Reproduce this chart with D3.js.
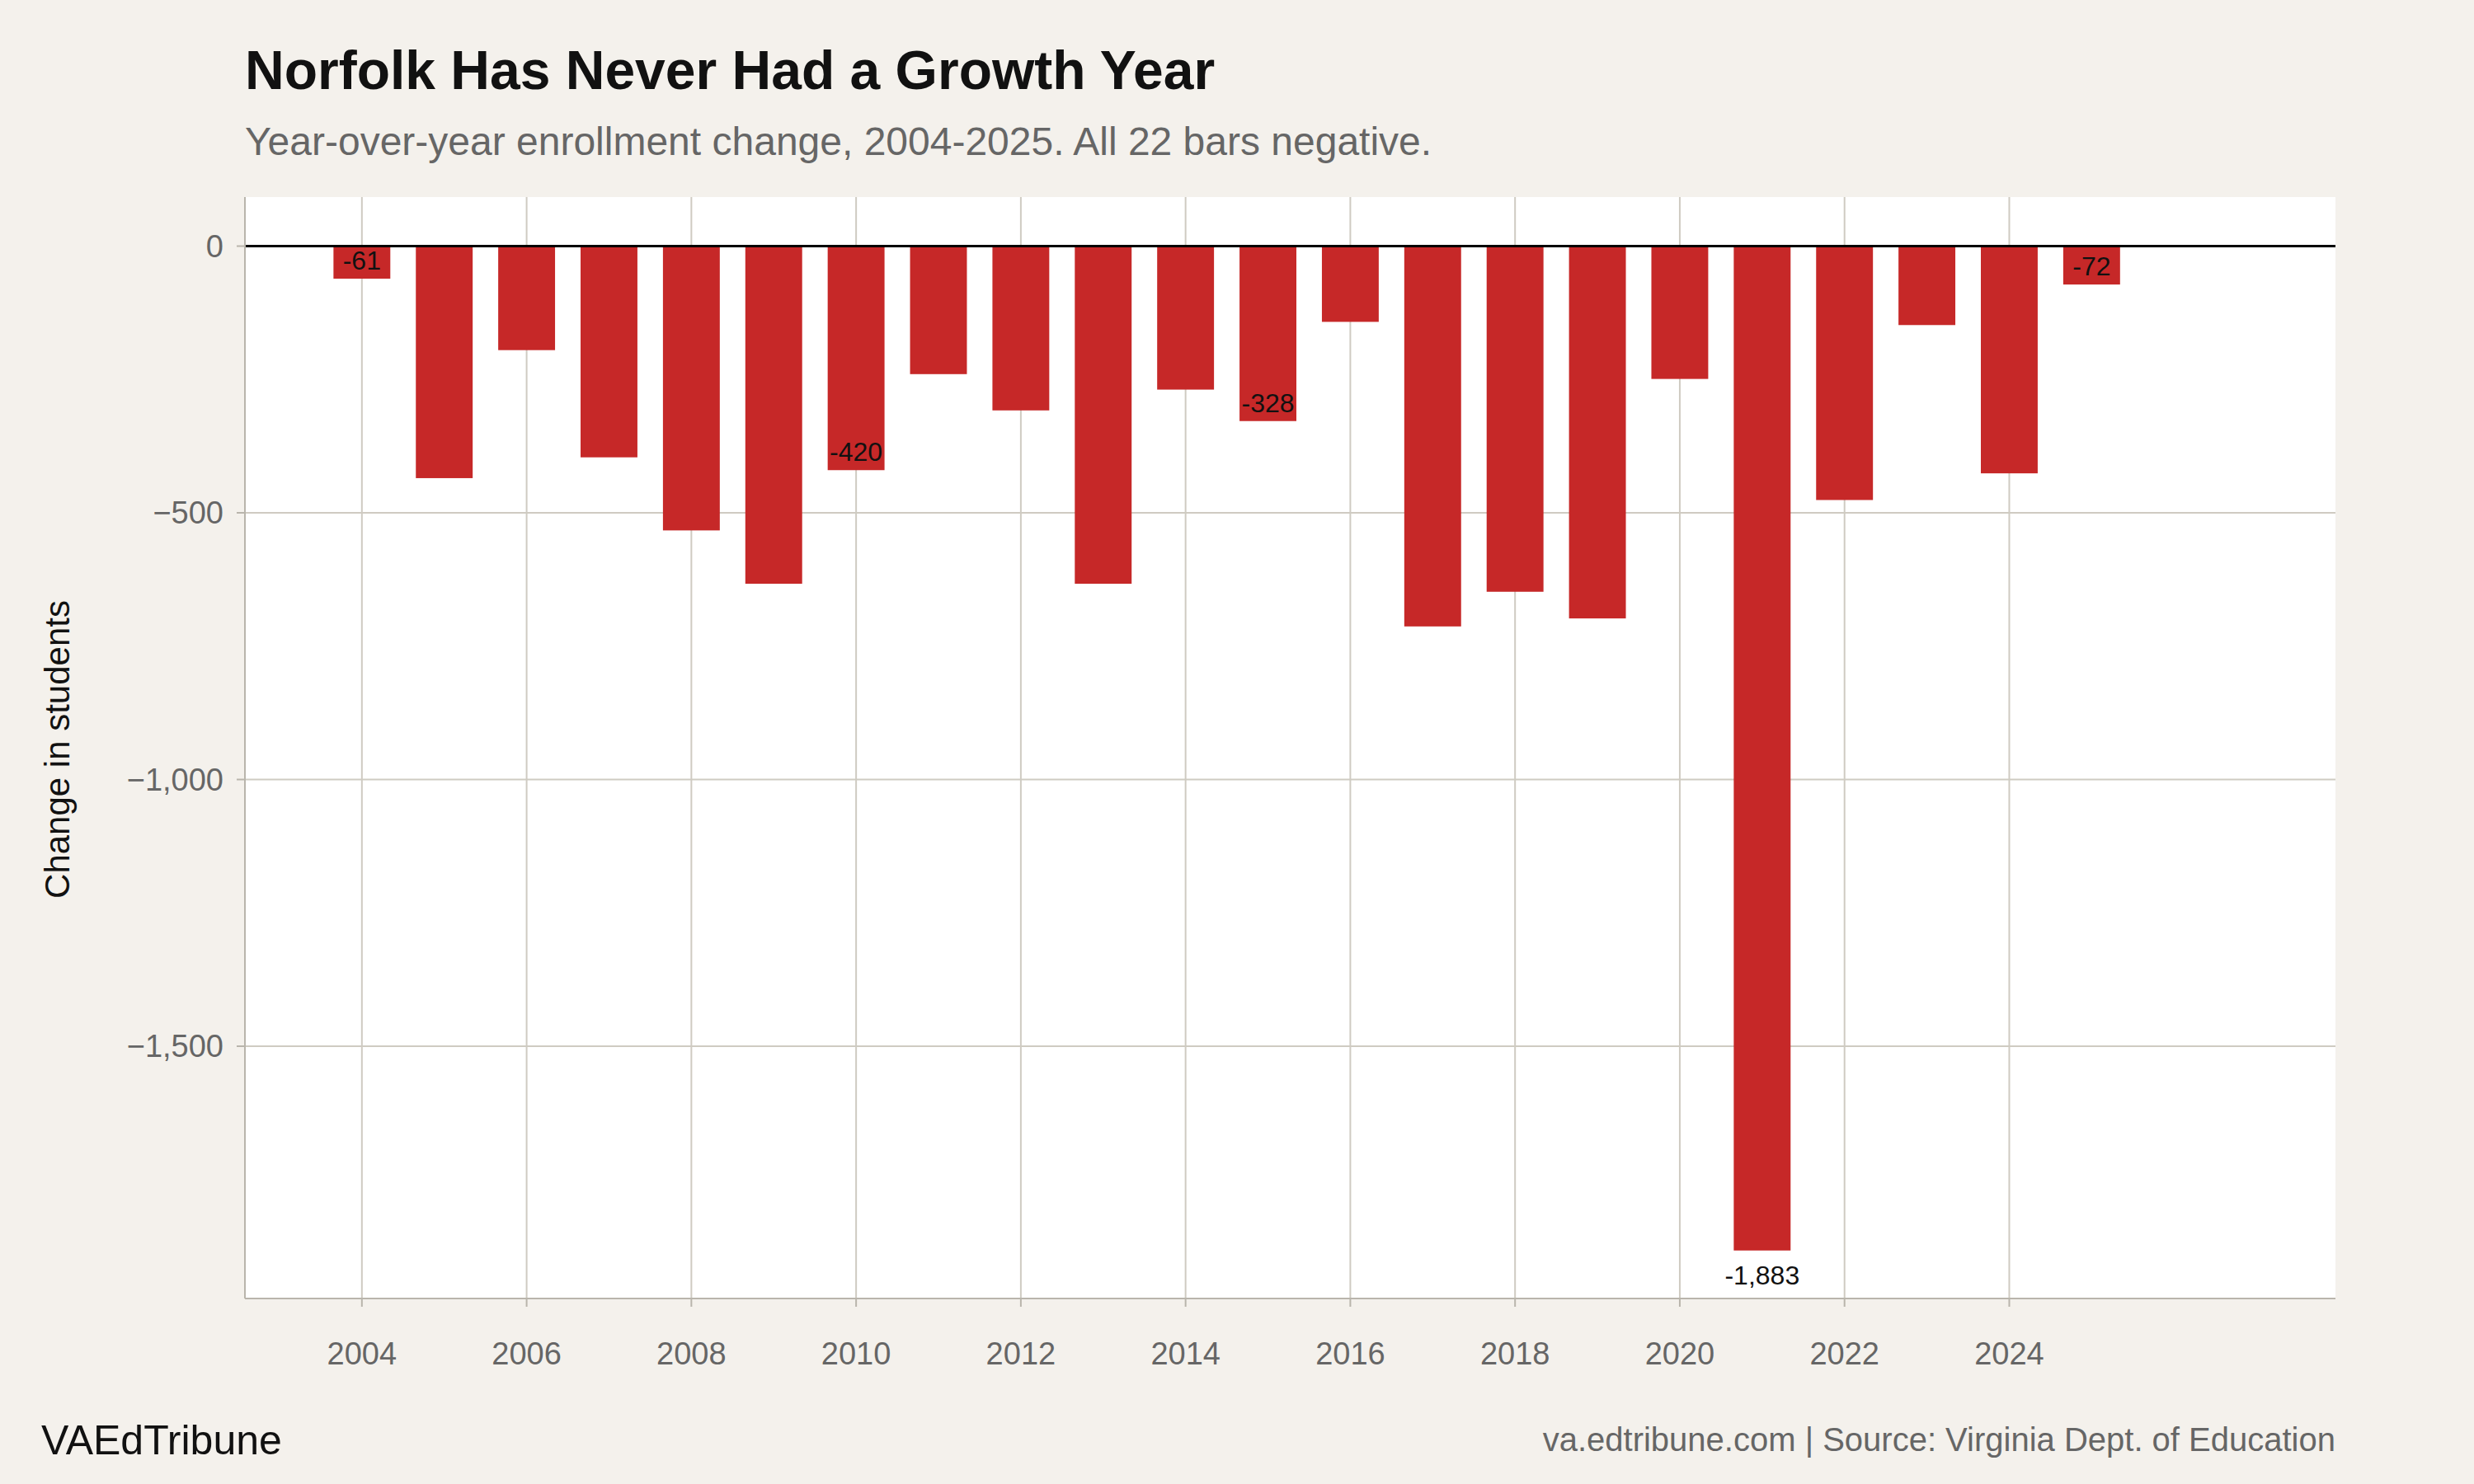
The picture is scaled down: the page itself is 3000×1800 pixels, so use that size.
<!DOCTYPE html>
<html><head><meta charset="utf-8">
<script src="https://cdn.jsdelivr.net/npm/d3@7"></script>
<style>body{margin:0;background:#f4f1ec}text{font-family:"Liberation Sans",Arial,sans-serif}</style>
</head><body><svg id="c" width="3000" height="1800"></svg>
<script>
const years = d3.range(2004, 2026);
const changes = [-61,-435,-195,-396,-533,-633,-420,-240,-308,-633,-269,-328,-142,-713,-648,-698,-249,-1883,-476,-148,-426,-72];
const labeledYears = [2004,2010,2015,2021,2025];
const yTicks = [0,-500,-1000,-1500];
const xTicks = d3.range(2004, 2025, 2);

const svg = d3.select("#c");
svg.append("rect").attr("width",3000).attr("height",1800).attr("fill","#f4f1ec");
const L=297,R=2832,T=239,B=1575;
const x = d3.scaleLinear().domain([2002.58,2027.96]).range([L,R]);
const y = d3.scaleLinear().domain([92,-1973]).range([T,B]);
svg.append("rect").attr("x",L).attr("y",T).attr("width",R-L).attr("height",B-T).attr("fill","#fff");
const grid="#cfcbc2";
svg.selectAll(".gy").data(yTicks).join("line").attr("x1",L).attr("x2",R).attr("y1",d=>y(d)).attr("y2",d=>y(d)).attr("stroke",grid).attr("stroke-width",2);
svg.selectAll(".gx").data(xTicks).join("line").attr("y1",T).attr("y2",B).attr("x1",d=>x(d)).attr("x2",d=>x(d)).attr("stroke",grid).attr("stroke-width",2);
const bw = x(2004.345)-x(2003.655);
svg.selectAll(".bar").data(years).join("rect").attr("x",d=>x(d)-bw/2).attr("width",bw)
 .attr("y",y(0)).attr("height",(d,i)=>y(changes[i])-y(0)).attr("fill","#c62828");
svg.append("line").attr("x1",L).attr("x2",R).attr("y1",y(0)).attr("y2",y(0)).attr("stroke","#000").attr("stroke-width",3);
// axes lines
svg.append("line").attr("x1",L).attr("x2",L).attr("y1",T).attr("y2",B).attr("stroke","#b9b5ac").attr("stroke-width",2);
svg.append("line").attr("x1",L).attr("x2",R).attr("y1",B).attr("y2",B).attr("stroke","#b9b5ac").attr("stroke-width",2);
svg.selectAll(".tx").data(xTicks).join("line").attr("x1",d=>x(d)).attr("x2",d=>x(d)).attr("y1",B).attr("y2",B+10).attr("stroke","#b9b5ac").attr("stroke-width",2);
svg.selectAll(".ty").data(yTicks).join("line").attr("x1",L-10).attr("x2",L).attr("y1",d=>y(d)).attr("y2",d=>y(d)).attr("stroke","#b9b5ac").attr("stroke-width",2);
const fmt = d3.format(",");
svg.selectAll(".yl").data(yTicks).join("text").attr("x",L-26).attr("y",d=>y(d)).attr("dy","0.35em")
 .attr("text-anchor","end").attr("font-size",38).attr("fill","#666").text(d=>fmt(d));
svg.selectAll(".xl").data(xTicks).join("text").attr("x",d=>x(d)).attr("y",1655)
 .attr("text-anchor","middle").attr("font-size",38).attr("fill","#666").text(d=>d);
// bar labels
labeledYears.forEach(yr=>{
  const v = changes[years.indexOf(yr)];
  const below = v < -1000;
  svg.append("text").attr("x",x(yr)).attr("y",below? y(v)+30 : y(v)-22).attr("dy","0.35em")
   .attr("text-anchor","middle").attr("font-size",32).attr("fill","#111").text(fmt(v).replace("−","-"));
});
svg.append("text").attr("transform","translate(84,909) rotate(-90)").attr("text-anchor","middle")
 .attr("font-size",42).attr("fill","#111").text("Change in students");
svg.append("text").attr("x",297).attr("y",108).attr("font-size",66).attr("font-weight","bold").attr("fill","#111").text("Norfolk Has Never Had a Growth Year");
svg.append("text").attr("x",297).attr("y",188).attr("font-size",48).attr("fill","#666").text("Year-over-year enrollment change, 2004-2025. All 22 bars negative.");
svg.append("text").attr("x",50).attr("y",1764).attr("font-size",50).attr("fill","#111").text("VAEdTribune");
svg.append("text").attr("x",2832).attr("y",1760).attr("text-anchor","end").attr("font-size",40).attr("fill","#666").text("va.edtribune.com | Source: Virginia Dept. of Education");
</script></body></html>
